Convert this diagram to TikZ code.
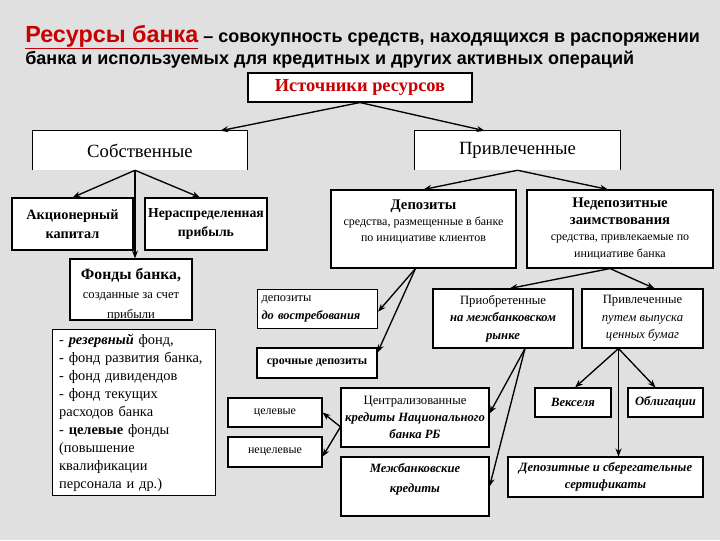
\documentclass[tikz,border=0pt]{standalone}
\usepackage{fontspec}
\setmainfont{Liberation Serif}
\newfontfamily\hfont{Liberation Sans}
\usetikzlibrary{arrows.meta,calc}
\definecolor{bg}{RGB}{224,224,224}
\definecolor{redt}{RGB}{200,0,0}
\begin{document}
\begin{tikzpicture}[x=0.75pt,y=-0.75pt,
  box/.style={draw,fill=white,line width=0.8pt,inner sep=1pt,align=center},
  openbox/.style={fill=white,inner sep=1pt,align=center},
  arr/.style={line width=1pt,-{Stealth[length=6pt,width=4.5pt]}},
  ttl/.style={anchor=base west,inner sep=0pt,font=\hfont\bfseries\fontsize{13.5}{16}\selectfont},
]
\fill[bg] (0,0) rectangle (720,540);
\useasboundingbox (0,0) rectangle (720,540);

% title
\node[ttl] (t1) at (25,42) {\textcolor{redt}{\fontsize{17.5}{20}\selectfont\underline{Ресурсы банка}} – совокупность средств, находящихся в распоряжении};
\node[ttl] (t2) at (25,64) {банка и используемых для кредитных и других активных операций};

% top
\node[box,minimum width=168pt,minimum height=21.75pt,text=redt,font=\bfseries\fontsize{13.8}{15}\selectfont] (src) at (360,87.5) {Источники ресурсов};

\node[openbox,minimum width=160.5pt,minimum height=29.25pt,font=\fontsize{14}{16}\selectfont] (own) at (140,150.5) {Собственные};
\draw[line width=0.8pt] (own.south west) -- (own.north west) -- (own.north east) -- (own.south east);
\node[openbox,minimum width=153.75pt,minimum height=29.25pt,font=\fontsize{14}{16}\selectfont] (att) at (517.5,150.5) {Привлеченные};
\draw[line width=0.8pt] (att.south west) -- (att.north west) -- (att.north east) -- (att.south east);

% own branch
\node[box,minimum width=90.75pt,minimum height=39pt,font=\bfseries\fontsize{10.7}{14}\selectfont] (akc) at (72.5,224) {Акционерный\\капитал};
\node[box,minimum width=91.5pt,minimum height=39pt,font=\bfseries\fontsize{10.3}{14}\selectfont] (ner) at (206,224) {Нераспределенная\\прибыль};
\node[box,minimum width=91.5pt,minimum height=45.75pt,font=\fontsize{9.5}{14.5}\selectfont] (fond) at (131,289.5) {{\bfseries\fontsize{11.8}{14}\selectfont Фонды банка,}\\созданные за счет\\прибыли\\[-20pt]};
\node[box,anchor=north west,text width=112pt,minimum height=124.5pt,inner xsep=5pt,inner ysep=3pt,align=left,font=\fontsize{10.8}{13.5}\selectfont] (list) at (52,329)
 {- \textbf{\textit{резервный}} фонд,\\- фонд развития банка,\\- фонд дивидендов\\- фонд текущих\\расходов банка\\- \textbf{целевые} фонды\\(повышение\\квалификации\\персонала и др.)};

% deposits
\node[box,minimum width=138.75pt,minimum height=58.5pt,font=\fontsize{9}{12}\selectfont] (dep) at (423.5,229) {{\bfseries\fontsize{11}{13}\selectfont Депозиты}\\средства, размещенные в банке\\по инициативе клиентов\\[0.5pt]};
\node[box,minimum width=139.5pt,minimum height=58.5pt,font=\fontsize{9}{12.5}\selectfont] (ned) at (620,229) {{\bfseries\fontsize{11}{13}\selectfont Недепозитные}\\{\bfseries\fontsize{11}{13}\selectfont заимствования}\\средства, привлекаемые по\\инициативе банка\\[-10.5pt]};

\node[box,anchor=north west,minimum width=90pt,minimum height=29.25pt,text width=84pt,align=left,inner xsep=3pt,font=\fontsize{9.3}{14}\selectfont] (dvos) at (257,289) {депозиты\\\textbf{\textit{до востребования}}};
\node[box,minimum width=90pt,minimum height=22.5pt,font=\bfseries\fontsize{9}{12}\selectfont] (sroch) at (317,363) {срочные депозиты};

\node[box,minimum width=105pt,minimum height=44.25pt,font=\fontsize{9.5}{13}\selectfont] (prio) at (503,318.5) {Приобретенные\\\textbf{\textit{на межбанковском}}\\\textbf{\textit{рынке}}};
\node[box,minimum width=90.75pt,minimum height=44.25pt,font=\fontsize{9.5}{13}\selectfont] (pcb) at (642.5,318.5) {Привлеченные\\\textit{путем выпуска}\\\textit{ценных бумаг}};

\node[box,minimum width=111pt,minimum height=44.25pt,font=\fontsize{9.5}{12.5}\selectfont] (cen) at (415,417.5) {Централизованные\\\textbf{\textit{кредиты Национального}}\\\textbf{\textit{банка РБ}}};
\node[box,minimum width=111pt,minimum height=44.25pt,font=\bfseries\itshape\fontsize{9.5}{15}\selectfont] (mez) at (415,486.5) {Межбанковские\\кредиты\\[-2.25pt]};

\node[box,minimum width=70.5pt,minimum height=21.75pt,font=\fontsize{9}{12}\selectfont] (cel) at (275,412.5) {целевые};
\node[box,minimum width=70.5pt,minimum height=22.5pt,font=\fontsize{9}{12}\selectfont] (ncel) at (275,452) {нецелевые};

\node[box,minimum width=57pt,minimum height=21.75pt,font=\bfseries\itshape\fontsize{9.5}{12}\selectfont] (vek) at (573,402.5) {Векселя};
\node[box,minimum width=56.25pt,minimum height=21.75pt,font=\bfseries\itshape\fontsize{9.5}{12}\selectfont] (obl) at (665.5,402.5) {Облигации};
\node[box,minimum width=146.25pt,minimum height=30pt,font=\bfseries\itshape\fontsize{9.5}{13}\selectfont] (ser) at (605.5,477) {Депозитные и сберегательные\\сертификаты};

% connectors
\draw[arr] (src.south) -- ([xshift=-20.25pt]own.north east);
\draw[arr] (src.south) -- ([xshift=52.5pt]att.north west);

\coordinate (os) at ([xshift=-3.75pt]own.south);
\draw[arr] (os) -- (akc.north);
\draw[arr] (os) -- ([xshift=-4.5pt]ner.north);
\draw[arr] (os) -- (os |- fond.north);

\draw[arr] (att.south) -- (dep.north);
\draw[arr] (att.south) -- ([xshift=-9pt]ned.north);

\coordinate (ds) at ([xshift=-6pt]dep.south);
\draw[arr] (ds) -- ([yshift=-2pt]dvos.east);
\draw[arr] (ds) -- ([yshift=-3.75pt]sroch.north east);

\coordinate (ns) at ([xshift=-7.5pt]ned.south);
\draw[arr] (ns) -- ([xshift=5pt]prio.north);
\draw[arr] (ns) -- ([xshift=9pt]pcb.north);

\coordinate (ps) at ([xshift=16.5pt]prio.south);
\draw[arr] (ps) -- ([yshift=3pt]cen.east);
\draw[arr] (ps) -- (mez.east);

\coordinate (cw) at ([yshift=-7pt]cen.west);
\draw[arr] (cw) -- (cel.east);
\draw[arr] (cw) -- ([yshift=-3.5pt]ncel.east);

\coordinate (bs) at ([xshift=-18pt]pcb.south);
\draw[arr] (bs) -- ([xshift=1.5pt]vek.north);
\draw[arr] (bs) -- ([xshift=-7.5pt]obl.north);
\draw[arr] (bs) -- (bs |- ser.north);
\end{tikzpicture}
\end{document}
